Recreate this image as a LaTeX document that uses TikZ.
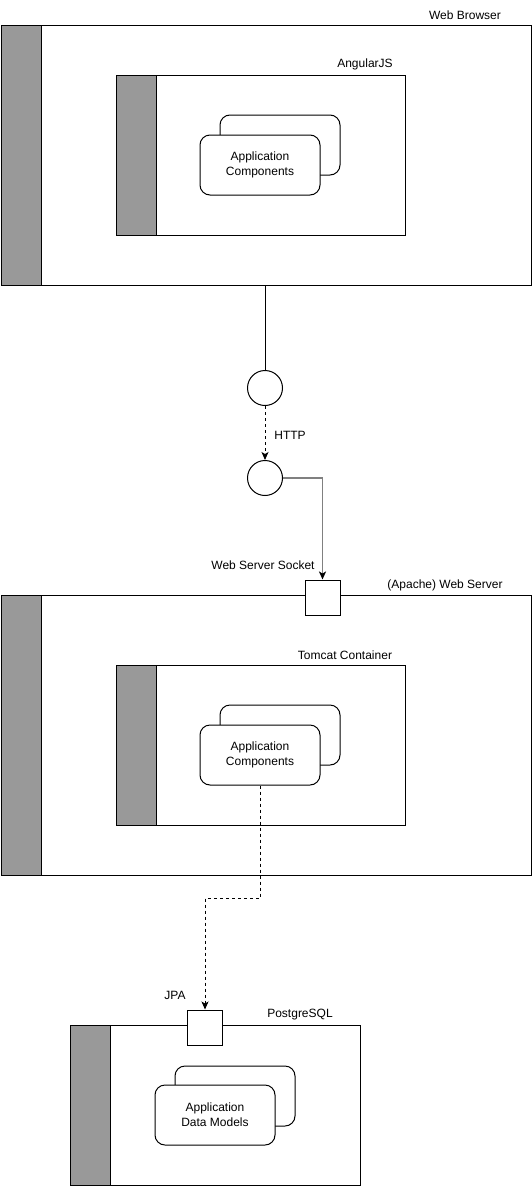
\documentclass[tikz,border=0pt]{standalone}
\usepackage{fontspec}
\setmainfont{Liberation Sans}
\usetikzlibrary{arrows.meta}
\definecolor{barcolor}{HTML}{999999}
\definecolor{linkgray}{HTML}{808080}

\begin{document}
\begin{tikzpicture}[x=1pt,y=-1pt,line width=1pt,
    frame/.style={draw,fill=white,anchor=north west,inner sep=0pt},
    bar/.style={draw,fill=barcolor,anchor=north west,inner sep=0pt,minimum width=40pt},
    comp/.style={draw,fill=white,rounded corners=10pt,minimum width=120pt,minimum height=60pt,
        inner sep=0pt,align=center,font=\fontsize{12}{15}\selectfont},
    port/.style={draw,fill=white,circle,minimum size=35pt,inner sep=0pt},
    sock/.style={draw,fill=white,minimum size=35pt,inner sep=0pt},
    lbl/.style={font=\fontsize{12}{14}\selectfont,inner sep=0pt},
    dash line/.style={dash pattern=on 3pt off 3pt},
    arr/.style={-{Stealth[length=8pt,width=7pt,inset=2pt,color=black]}}]
    \useasboundingbox (0,0) rectangle (531,1186);

    % web browser
    \node[frame,minimum width=530pt,minimum height=260pt] (browser) at (0.5,25) {};
    \node[bar,minimum height=260pt] (browserbar) at (0.5,25) {};
    \node[lbl] (browserlbl) at (465,15) {Web Browser};
    \node[frame,minimum width=289pt,minimum height=160pt] (angular) at (116,75) {};
    \node[bar,minimum height=160pt] (angularbar) at (116,75) {};
    \node[lbl] (angularlbl) at (365,64) {AngularJS};
    \node[comp] (angularback) at (280,145) {};
    \node[comp] (angularcomp) at (260,165) {Application\\Components};

    % http link
    \node[port] (outport) at (265,388) {};
    \node[port] (inport) at (265,478) {};
    \node[lbl] (httplbl) at (290,435) {HTTP};
    \draw (outport |- browser.south) -- (outport);
    \draw[dash line,arr] (outport) -- (inport);

    % web server
    \node[frame,minimum width=530pt,minimum height=280pt] (server) at (0.5,595) {};
    \node[bar,minimum height=280pt] (serverbar) at (0.5,595) {};
    \node[lbl] (serverlbl) at (445,585) {(Apache) Web Server};
    \node[sock] (socket) at (322.5,597.5) {};
    \node[lbl] (socketlbl) at (263,565) {Web Server Socket};
    \draw[linkgray,line width=1.5pt,arr] (inport) -| (socket);
    \node[frame,minimum width=289pt,minimum height=160pt] (tomcat) at (116,665) {};
    \node[bar,minimum height=160pt] (tomcatbar) at (116,665) {};
    \node[lbl] (tomcatlbl) at (345,655) {Tomcat Container};
    \node[comp] (tomcatback) at (280,735) {};
    \node[comp] (tomcatcomp) at (260,755) {Application\\Components};

    % database
    \node[frame,minimum width=290pt,minimum height=160pt] (db) at (70,1025) {};
    \node[bar,minimum height=160pt] (dbbar) at (70,1025) {};
    \node[lbl] (dblbl) at (300,1015) {PostgreSQL};
    \node[sock] (jpa) at (205,1027.5) {};
    \node[lbl] (jpalbl) at (175,995) {JPA};
    \node[comp] (dbback) at (235,1096) {};
    \node[comp] (dbcomp) at (215,1115) {Application\\Data Models};

    \coordinate (bend) at (260,898);
    \draw[dash line,arr] (tomcatcomp.south) -- (bend) -| (jpa.north);
\end{tikzpicture}
\end{document}
